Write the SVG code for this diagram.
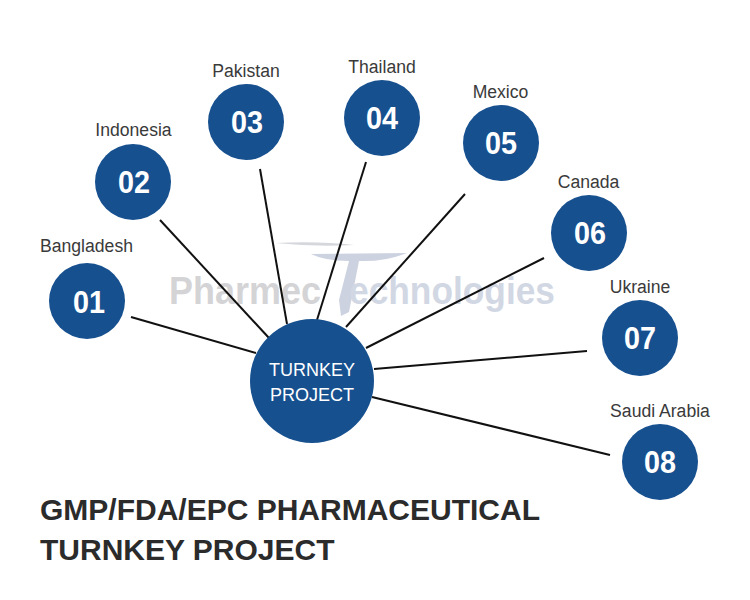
<svg xmlns="http://www.w3.org/2000/svg" width="750" height="600" viewBox="0 0 750 600">
<style>
.n{fill:#17508f}
.num{font:bold 31px "Liberation Sans",Arial,sans-serif;fill:#fff;text-anchor:middle}
.lab{font:17.6px "Liberation Sans",Arial,sans-serif;fill:#3a3a3a;text-anchor:middle}
.hub{font:18px "Liberation Sans",Arial,sans-serif;fill:#fff;text-anchor:middle}
.title{font:bold 30px "Liberation Sans",Arial,sans-serif;fill:#2b2b2b}
.wm{font:bold 38px "Liberation Sans",Arial,sans-serif}
#connectors line{stroke:#111;stroke-width:2}
</style>
<rect width="750" height="600" fill="#fff"/>
<g id="watermark">
<path d="M275 243Q320 241 354 245Q315 247 275 243Z" fill="#d5d7dc"/>
<path d="M311 254L407 253Q385 262 359 261L349 312L341 316L339 300L349 261Q325 261 311 254Z" fill="#ccd2e0"/>
<text class="wm" x="169" y="304" fill="#d4d4d6" textLength="152" lengthAdjust="spacingAndGlyphs">Pharmec</text>
<text class="wm" x="349" y="304" fill="#d2d7e4" textLength="206" lengthAdjust="spacingAndGlyphs">echnologies</text>
</g>
<g id="connectors">
<line x1="131" y1="317" x2="256" y2="353"/>
<line x1="160" y1="220" x2="269" y2="338"/>
<line x1="260" y1="169" x2="287" y2="324"/>
<line x1="366" y1="162" x2="317" y2="320"/>
<line x1="465" y1="194" x2="346" y2="327"/>
<line x1="544" y1="258" x2="366" y2="348"/>
<line x1="587" y1="351" x2="374" y2="369"/>
<line x1="610" y1="455" x2="372" y2="397"/>
</g>
<g id="hub"><circle class="n" cx="312" cy="381" r="62"/><text class="hub" x="312" y="376">TURNKEY</text><text class="hub" x="312" y="401">PROJECT</text></g>
<g id="n01"><circle class="n" cx="87" cy="301" r="38"/><text class="num" x="89" y="313" textLength="32" lengthAdjust="spacingAndGlyphs">01</text><text class="lab" x="86.500" y="252">Bangladesh</text></g>
<g id="n02"><circle class="n" cx="133" cy="182" r="38"/><text class="num" x="134" y="193" textLength="32" lengthAdjust="spacingAndGlyphs">02</text><text class="lab" x="133.500" y="136">Indonesia</text></g>
<g id="n03"><circle class="n" cx="246" cy="122" r="38"/><text class="num" x="247" y="133" textLength="32" lengthAdjust="spacingAndGlyphs">03</text><text class="lab" x="246" y="77">Pakistan</text></g>
<g id="n04"><circle class="n" cx="382" cy="118" r="38"/><text class="num" x="382" y="129" textLength="32" lengthAdjust="spacingAndGlyphs">04</text><text class="lab" x="382" y="73">Thailand</text></g>
<g id="n05"><circle class="n" cx="501" cy="143" r="38"/><text class="num" x="501" y="154" textLength="32" lengthAdjust="spacingAndGlyphs">05</text><text class="lab" x="500.500" y="98">Mexico</text></g>
<g id="n06"><circle class="n" cx="589" cy="233" r="38"/><text class="num" x="590" y="244" textLength="32" lengthAdjust="spacingAndGlyphs">06</text><text class="lab" x="588.500" y="188">Canada</text></g>
<g id="n07"><circle class="n" cx="640" cy="338" r="38"/><text class="num" x="640" y="349" textLength="32" lengthAdjust="spacingAndGlyphs">07</text><text class="lab" x="640" y="293">Ukraine</text></g>
<g id="n08"><circle class="n" cx="660" cy="462" r="38"/><text class="num" x="660" y="473" textLength="32" lengthAdjust="spacingAndGlyphs">08</text><text class="lab" x="660" y="417">Saudi Arabia</text></g>
<g id="title"><text class="title" x="40" y="520">GMP/FDA/EPC PHARMACEUTICAL</text><text class="title" x="40" y="560">TURNKEY PROJECT</text></g>
</svg>
